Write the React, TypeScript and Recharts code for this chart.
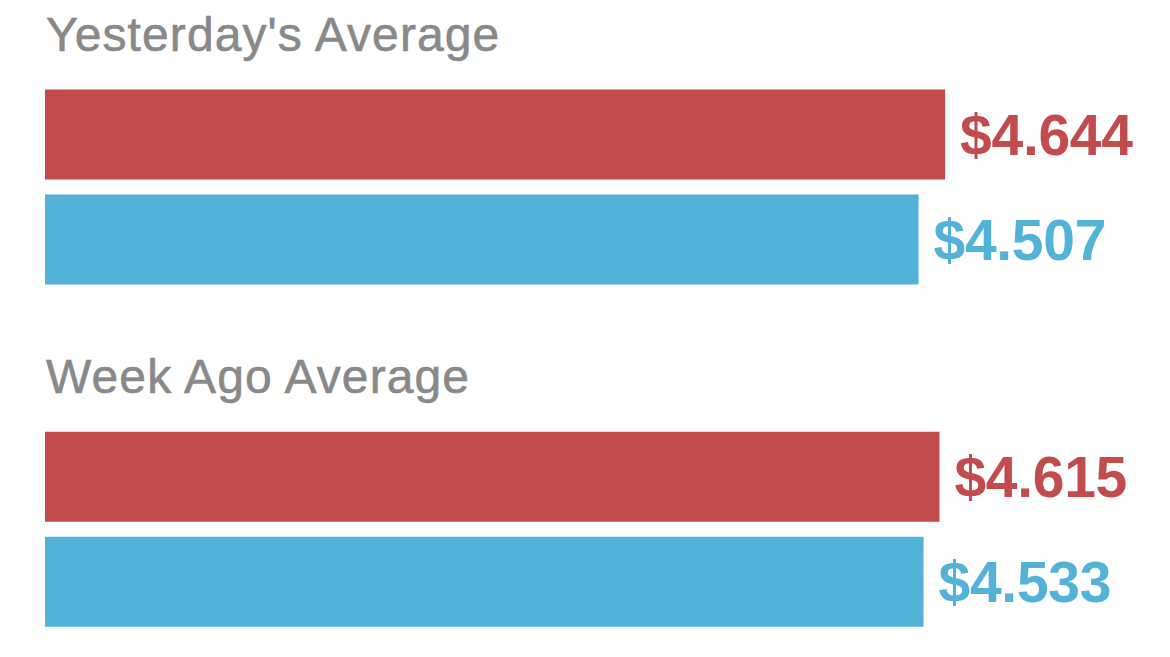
import { BarChart, Bar, XAxis, YAxis, LabelList } from 'recharts';

const groups = ["Yesterday's Average", 'Week Ago Average'];
const redValues = [4.644, 4.615];
const blueValues = [4.507, 4.533];

const RED = '#c24b4d';
const BLUE = '#52b2d7';
const GRAY = '#898989';
const FONT = '"Liberation Sans", Arial, Helvetica, sans-serif';

const data = groups.map((g, i) => ({ group: g, red: redValues[i], blue: blueValues[i] }));

const money = (v: any) => `$${Number(v).toFixed(3)}`;

// group title sits above the first bar of each pair
function GroupTitle({ x, y, value }: any) {
  return (
    <text
      x={Number(x) + 1}
      y={Number(y) - 39}
      fill={GRAY}
      stroke={GRAY}
      strokeWidth={0.6}
      fontSize={48}
      letterSpacing={1.1}
      fontFamily={FONT}
      textAnchor="start"
    >
      {value}
    </text>
  );
}

export default function App() {
  return (
    <div style={{ position: 'fixed', left: 0, top: 0, width: 1170, height: 657, overflow: 'hidden', background: '#fff' }}>
      <BarChart
        width={1170}
        height={700}
        layout="vertical"
        data={data}
        margin={{ top: 15.5, right: 59, bottom: 0, left: 45 }}
        barGap={15}
      >
        <XAxis type="number" domain={[0, 5.5]} hide />
        <YAxis type="category" dataKey="group" hide />
        <Bar dataKey="red" fill={RED} barSize={90} isAnimationActive={false}>
          <LabelList dataKey="group" content={(props: any) => <GroupTitle {...props} />} />
          <LabelList dataKey="red" position="right" offset={15} formatter={money}
            fill={RED} fontSize={57} fontWeight="bold" fontFamily={FONT} letterSpacing={-0.3} />
        </Bar>
        <Bar dataKey="blue" fill={BLUE} barSize={90} isAnimationActive={false}>
          <LabelList dataKey="blue" position="right" offset={15} formatter={money}
            fill={BLUE} fontSize={57} fontWeight="bold" fontFamily={FONT} letterSpacing={-0.3} />
        </Bar>
      </BarChart>
    </div>
  );
}
